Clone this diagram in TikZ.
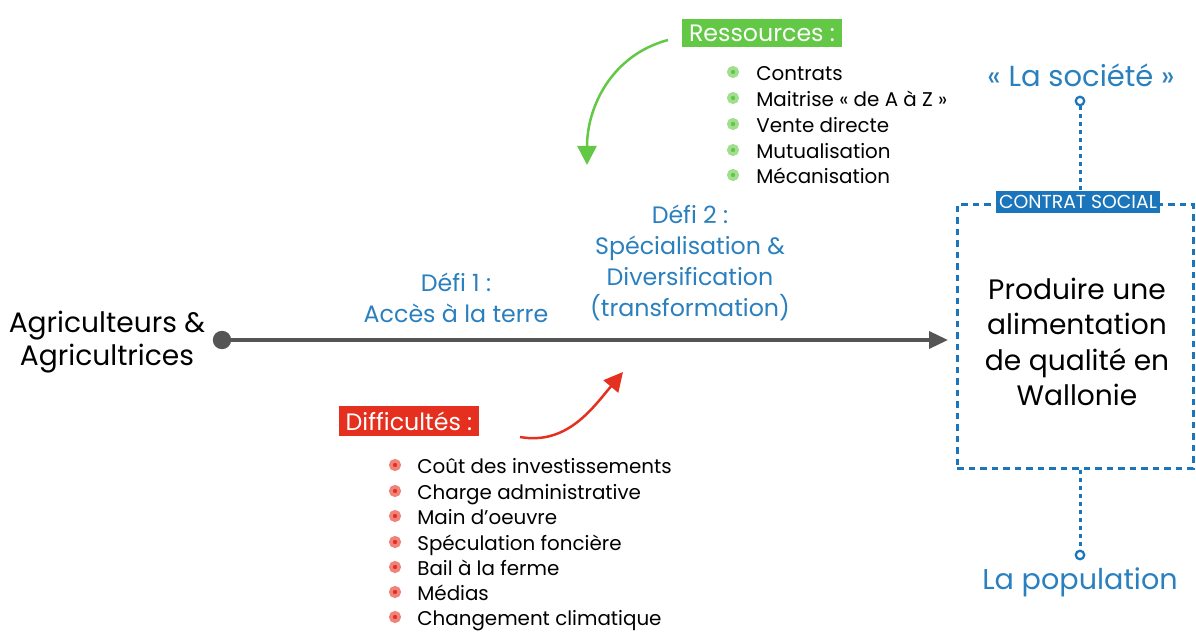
\documentclass[tikz,border=0pt]{standalone}
\usepackage{fontspec}
\setmainfont{Poppins}
\usetikzlibrary{arrows.meta,positioning}

\definecolor{gris}{HTML}{555555}
\definecolor{bleu}{HTML}{1B75BB}
\definecolor{bleutxt}{HTML}{2A80BE}
\definecolor{vert}{HTML}{62C846}
\definecolor{rouge}{HTML}{E5301F}

\tikzset{
  axe/.style={draw=gris, line width=0.7mm, -{Triangle[length=3.8mm,width=3.4mm]}},
  fleche/.style={draw=#1, line width=0.5mm, -{Triangle[length=3.8mm,width=3.8mm]}},
  titre/.style={text=bleutxt, align=center, font=\fontsize{13.5}{17.5}\selectfont},
  etiq/.style={fill=#1, text=white, inner xsep=1.4mm, inner ysep=1.2mm, font=\fontsize{13.5}{15}\selectfont},
  puce/.style={circle, fill=#1, draw=#1!60, line width=0.7mm, inner sep=0.6mm},
  item/.style={anchor=west, inner sep=0, text height=2ex, text depth=0.3ex, font=\fontsize{11.3}{13}\selectfont},
  cadre/.style={draw=bleu, line width=0.6mm, dash pattern=on 1.3mm off 1mm},
  lien/.style={draw=bleu, line width=0.6mm, dash pattern=on 0.8mm off 0.8mm},
  anneau/.style={circle, draw=bleu, line width=0.45mm, fill=white, inner sep=0.6mm},
}

\begin{document}
\begin{tikzpicture}[x=0.2mm,y=-0.2mm]
\useasboundingbox (0,0) rectangle (1196,632);

% axe principal
\draw node[align=center, font=\fontsize{16}{19}\selectfont] (agri) at (107,342) {Agriculteurs \&\\Agricultrices};
\draw node[circle, fill=gris, inner sep=1.3mm] (dep) at (222,340) {};
\coordinate (fin) at (948,340);
\draw[axe] (dep.center) -- (fin);

\draw node[titre] (defi1) at (456,298) {Défi 1 :\\Accès à la terre};
\draw node[titre] (defi2) at (690,263) {Défi 2 :\\Spécialisation \&\\Diversification\\(transformation)};

% ressources
\draw node[etiq=vert] (ress) at (762,33) {Ressources :};
\coordinate (vdep) at (668,40);
\coordinate (vfin) at (587,165);
\draw[fleche=vert] (vdep) to[out=195,in=90] (vfin);

\draw node[puce=vert] (r1) at (733,72) {};
\draw node[item] (rt1) at (756,72) {Contrats};
\draw node[puce=vert] (r2) at (733,98) {};
\draw node[item] (rt2) at (756,98) {Maitrise « de A à Z »};
\draw node[puce=vert] (r3) at (733,124) {};
\draw node[item] (rt3) at (756,124) {Vente directe};
\draw node[puce=vert] (r4) at (733,150) {};
\draw node[item] (rt4) at (756,150) {Mutualisation};
\draw node[puce=vert] (r5) at (733,175) {};
\draw node[item] (rt5) at (756,175) {Mécanisation};

% difficultes
\draw node[etiq=rouge] (diff) at (409,421) {Difficultés :};
\coordinate (rdep) at (520,437);
\coordinate (rfin) at (623,372);
\draw[fleche=rouge] (rdep) to[out=-10,in=230] (rfin);

\draw node[puce=rouge] (d1) at (395,465) {};
\draw node[item] (dt1) at (417,465) {Coût des investissements};
\draw node[puce=rouge] (d2) at (395,491) {};
\draw node[item] (dt2) at (417,491) {Charge administrative};
\draw node[puce=rouge] (d3) at (395,516) {};
\draw node[item] (dt3) at (417,516) {Main d'oeuvre};
\draw node[puce=rouge] (d4) at (395,542) {};
\draw node[item] (dt4) at (417,542) {Spéculation foncière};
\draw node[puce=rouge] (d5) at (395,567) {};
\draw node[item] (dt5) at (417,567) {Bail à la ferme};
\draw node[puce=rouge] (d6) at (395,592) {};
\draw node[item] (dt6) at (417,592) {Médias};
\draw node[puce=rouge] (d7) at (395,617) {};
\draw node[item] (dt7) at (417,617) {Changement climatique};

% contrat social
\draw node[cadre, minimum width=47.2mm, minimum height=52.6mm] (cadre) at (1075,336.5) {};
\draw node[align=center, font=\fontsize{16}{20}\selectfont] (prod) at (1077,342) {Produire une\\alimentation\\de qualité en\\Wallonie};
\draw node[etiq=bleu, inner xsep=0.7mm, inner ysep=0.8mm, font=\fontsize{10.7}{12}\selectfont] (contrat) at (1078,202) {CONTRAT SOCIAL};

\draw node[text=bleutxt, font=\fontsize{16.5}{18}\selectfont] (soc) at (1081,75) {« La société »};
\draw node[anneau] (o1) at (1080,101) {};
\draw[lien] (o1) -- (o1 |- contrat.north);

\draw node[anneau] (o2) at (1080,555) {};
\draw[lien] (o2 |- cadre.south) -- (o2);
\draw node[text=bleutxt, font=\fontsize{16.3}{18}\selectfont] (pop) at (1080,582) {La population};
\end{tikzpicture}
\end{document}
